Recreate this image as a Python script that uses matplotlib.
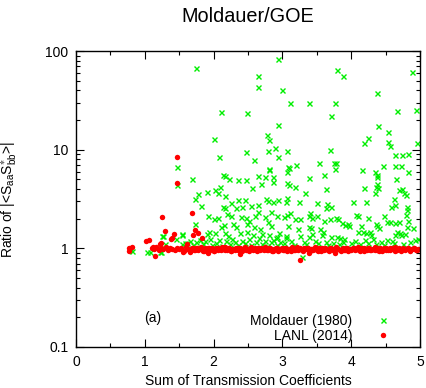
import matplotlib
matplotlib.use("Agg")
import matplotlib.pyplot as plt
from matplotlib.ticker import LogLocator, FixedLocator, NullFormatter, FixedFormatter

plt.rcParams['font.family'] = ['Liberation Sans', 'DejaVu Sans']
plt.rcParams['mathtext.fontset'] = 'custom'
plt.rcParams['mathtext.rm'] = 'Liberation Sans'

# Moldauer (1980) ratios vs. sum of transmission coefficients
moldauer_x = [
    1.75, 2.94, 2.65, 2.65, 3.00, 3.11, 3.38, 2.11, 2.49, 2.94, 2.00, 2.77, 2.81, 2.89,
    2.79, 2.47, 3.07, 2.08, 2.93, 2.59, 3.20, 3.08, 2.81,
    3.80, 3.88, 4.88, 4.37, 3.77, 3.71, 4.67, 4.94, 4.39, 4.54, 4.25, 4.18, 4.53, 4.57,
    4.96, 3.69, 4.63, 4.74, 4.83, 3.53, 3.75, 3.78, 4.46, 4.63, 4.73, 3.76, 4.15,
    1.47, 1.47, 1.68, 1.78, 1.73, 1.81, 1.91, 1.92, 1.73, 1.54, 1.25, 1.91, 1.54, 1.58,
    1.30, 1.46, 1.03, 1.08, 1.24, 1.26, 1.54, 0.82, 1.22, 0.78,
    2.81, 2.13, 2.16, 2.22, 2.35, 2.47, 2.65, 2.75, 2.87, 2.87, 2.69, 2.56, 2.02, 2.10,
    2.07, 2.17, 2.36, 2.45, 2.76, 2.79, 2.87, 2.94, 2.25, 2.13, 2.17, 2.33, 2.41, 2.54,
    2.64, 2.65, 2.60, 2.84, 2.00, 2.06, 2.19, 2.26, 2.40, 2.47, 2.52, 2.75, 2.79, 2.84,
    2.92, 2.11, 2.15, 2.28, 2.33, 2.48, 2.58, 2.67, 1.93, 2.02, 2.17, 2.21, 2.38, 2.49,
    2.57, 2.71, 2.81, 2.90,
    1.62, 1.66, 1.70, 1.75, 1.80, 1.84, 1.88, 1.95, 1.98, 2.04, 2.08, 2.12, 2.18, 2.24,
    2.27, 2.31, 2.36, 2.42, 2.45, 2.51, 2.55, 2.61, 2.66, 2.70, 2.74, 2.78, 2.83, 2.87,
    2.92, 2.97,
    3.09, 3.06, 3.60, 3.38, 3.06, 3.09, 3.19, 3.63, 3.33, 3.07, 3.05, 3.24, 3.51, 3.65,
    3.71, 3.64, 3.11, 3.07, 3.02, 3.40, 3.50, 3.39, 3.43, 3.19, 3.26, 3.78, 3.81, 3.69,
    3.61, 3.86, 3.91, 3.95, 3.08, 3.38, 3.41, 3.23, 3.26, 3.55, 3.59, 3.57, 2.95, 2.92,
    3.05, 3.05, 3.43, 3.38, 3.71, 3.79, 3.84, 3.90, 3.28,
    3.02, 3.13, 3.17, 3.31, 3.35, 3.47, 3.52, 3.63, 3.67, 3.74, 3.82, 3.88,
    4.35, 4.37, 4.38, 4.83, 4.65, 4.38, 4.36, 4.39, 4.34, 4.18, 4.69, 4.74, 4.79, 4.77,
    4.62, 4.64, 4.58, 4.02, 4.21, 4.81, 4.81, 4.80, 4.07, 4.10, 4.25, 4.47, 4.52, 4.56,
    4.64, 4.69, 3.97, 4.14, 4.38, 4.36, 4.41, 4.82, 4.81, 4.90, 4.10, 4.17, 4.22, 4.27,
    4.66, 4.71, 4.64, 4.73, 4.78, 4.29, 4.32, 4.20, 4.59, 4.52, 4.93,
    4.00, 4.05, 4.13, 4.24, 4.36, 4.44, 4.48, 4.62, 4.76, 4.86, 4.97,
]
moldauer_y = [
    67, 83, 56, 43, 40.5, 29.4, 30, 24.2, 23.5, 17.9, 12.9, 14.0, 12.4, 10.4,
    9.7, 9.5, 9.6, 8.4, 8.4, 7.9, 7.0, 6.6, 6.4,
    64, 55.7, 61, 37.2, 29.7, 21.9, 24.4, 25, 17.5, 15.1, 13.0, 11.7, 12.0, 11.0,
    11.6, 9.9, 8.9, 8.8, 9.0, 7.3, 7.3, 7.4, 6.9, 6.8, 6.8, 6.3, 6.2,
    6.6, 4.4, 5.07, 3.52, 3.16, 2.70, 3.75, 2.14, 1.78, 1.39, 1.32, 1.41, 1.10, 1.14,
    1.10, 1.24, 0.92, 0.91, 0.92, 1.33, 1.37, 0.95, 0.92, 1.0,
    6.2, 5.6, 5.4, 5.1, 4.9, 4.9, 5.4, 5.3, 5.3, 4.7, 4.45, 4.06, 3.87, 4.17,
    3.6, 3.39, 3.06, 3.06, 3.16, 3.01, 2.93, 3.09, 2.86, 2.64, 2.54, 2.54, 2.62, 2.70,
    2.76, 2.35, 2.14, 2.35, 1.98, 2.01, 2.21, 2.13, 2.09, 2.01, 1.89, 2.09, 1.85, 1.68,
    2.13, 1.65, 1.72, 1.78, 1.65, 1.75, 1.65, 1.58, 1.45, 1.42, 1.42, 1.34, 1.42, 1.47,
    1.36, 1.39, 1.36, 1.28,
    1.12, 1.20, 1.08, 1.15, 1.22, 1.10, 1.18, 1.25, 1.08, 1.14, 1.22, 1.06, 1.18, 1.10,
    1.25, 1.15, 1.07, 1.20, 1.12, 1.24, 1.08, 1.16, 1.27, 1.10, 1.20, 1.06, 1.15, 1.22,
    1.09, 1.17,
    6.45, 5.97, 5.6, 5.2, 4.6, 4.38, 4.2, 3.96, 3.6, 3.25, 2.92, 2.96, 2.86, 2.79,
    2.60, 2.54, 2.26, 2.17, 2.06, 2.26, 2.14, 2.14, 2.04, 1.98, 1.97, 2.04, 1.98, 1.98,
    1.89, 1.79, 1.72, 1.75, 1.69, 1.65, 1.59, 1.57, 1.34, 1.57, 1.45, 1.36, 1.42, 1.31,
    1.34, 1.26, 1.39, 1.31, 1.30, 1.30, 1.26, 1.24, 0.82,
    1.12, 1.18, 1.08, 1.15, 1.10, 1.20, 1.12, 1.16, 1.08, 1.14, 1.10, 1.16,
    5.89, 5.3, 5.6, 5.9, 5.0, 4.48, 4.2, 4.1, 3.6, 4.05, 3.9, 3.96, 3.46, 3.66,
    3.13, 2.75, 2.64, 2.96, 2.96, 2.64, 2.45, 2.17, 2.17, 2.13, 2.01, 2.13, 1.86, 1.83,
    1.82, 1.86, 1.68, 1.68, 1.68, 1.76, 1.59, 1.89, 1.65, 1.62, 1.45, 1.45, 1.42, 1.45,
    1.47, 1.42, 1.36, 1.36, 1.39, 1.36, 1.24, 1.21, 1.19, 1.21, 1.21,
    1.12, 1.18, 1.10, 1.14, 1.10, 1.16, 1.08, 1.12, 1.10, 1.15, 1.25,
]

# LANL (2014) ratios: scattered points away from unity
lanl_x = [
    1.47, 1.47, 1.25, 1.69, 1.30, 1.43, 1.40, 1.73, 1.77, 1.70, 1.83, 1.02, 1.06, 1.38,
    1.23, 0.81, 0.77, 0.77, 1.15, 1.55, 1.66, 1.92, 1.12, 1.22, 2.39, 2.93, 3.26, 3.38,
    3.76, 1.62,
]
lanl_y = [
    8.5, 4.6, 2.1, 2.28, 1.5, 1.39, 1.26, 1.53, 1.43, 1.36, 1.26, 1.18, 1.21, 1.25,
    1.12, 1.04, 1.0, 0.95, 0.84, 0.91, 0.92, 0.89, 1.04, 1.10, 0.87, 0.94, 0.76, 0.89,
    0.89, 1.10,
]

# LANL (2014) ratios close to unity
lanl_band_x = [
    1.10, 1.13, 1.17, 1.20, 1.24, 1.27, 1.31, 1.34, 1.36, 1.40,
    1.44, 1.47, 1.50, 1.53, 1.57, 1.60, 1.63, 1.66, 1.70, 1.73,
    1.76, 1.79, 1.82, 1.86, 1.89, 1.92, 1.95, 1.98, 2.01, 2.04,
    2.07, 2.11, 2.14, 2.17, 2.20, 2.23, 2.26, 2.30, 2.33, 2.36,
    2.39, 2.42, 2.45, 2.49, 2.52, 2.55, 2.58, 2.61, 2.64, 2.68,
    2.71, 2.74, 2.77, 2.80, 2.83, 2.87, 2.90, 2.93, 2.96, 2.99,
    3.02, 3.05, 3.09, 3.12, 3.15, 3.18, 3.21, 3.24, 3.28, 3.31,
    3.34, 3.37, 3.40, 3.43, 3.47, 3.50, 3.53, 3.56, 3.59, 3.62,
    3.66, 3.69, 3.72, 3.75, 3.78, 3.81, 3.85, 3.88, 3.91, 3.94,
    3.97, 4.00, 4.04, 4.07, 4.10, 4.13, 4.16, 4.19, 4.23, 4.26,
    4.29, 4.32, 4.35, 4.38, 4.42, 4.45, 4.48, 4.51, 4.54, 4.57,
    4.61, 4.64, 4.67, 4.70, 4.73, 4.76, 4.80, 4.83, 4.86, 4.89,
    4.92, 4.95, 4.99,
    1.62, 1.65, 1.68, 1.71, 1.75, 1.78, 1.81, 1.84, 1.87, 1.91,
    1.94, 1.97, 2.00, 2.03, 2.06, 2.09, 2.12, 2.16, 2.19, 2.22,
    2.25, 2.28, 2.31, 2.35, 2.38, 2.41, 2.44, 2.47, 2.50, 2.54,
    2.57, 2.60, 2.63, 2.66, 2.69, 2.73, 2.76, 2.79, 2.82, 2.85,
    2.88, 2.92, 2.95, 2.98, 3.01, 3.04, 3.07, 3.11, 3.14, 3.17,
    3.20, 3.23, 3.26, 3.30, 3.33, 3.36, 3.39, 3.42, 3.45, 3.49,
    3.52, 3.55, 3.58, 3.61, 3.64, 3.68, 3.71, 3.74, 3.77, 3.80,
    3.83, 3.87, 3.90, 3.93, 3.96, 3.99, 4.02, 4.06, 4.09, 4.12,
    4.15, 4.18, 4.21, 4.25, 4.28, 4.31, 4.34, 4.37, 4.40, 4.44,
    4.47, 4.50, 4.53, 4.56, 4.59, 4.63, 4.66, 4.69, 4.72, 4.75,
    4.78, 4.82, 4.85, 4.88, 4.91, 4.94, 4.97,
]
lanl_band_y = [
    1.00, 0.99, 1.02, 0.97, 1.01, 0.98, 1.03, 0.96, 1.00, 0.99,
    0.97, 1.01, 0.98, 1.00, 0.95, 1.02, 0.99, 0.97, 1.01, 0.96,
    1.00, 0.98, 1.02, 0.95, 0.99, 1.01, 0.97, 1.00, 0.94, 0.99,
    1.01, 0.96, 0.99, 1.02, 0.97, 1.00, 0.95, 0.98, 1.01, 0.96,
    1.00, 0.97, 1.02, 0.98, 0.95, 1.00, 0.99, 0.96, 1.01, 0.97,
    0.99, 1.02, 0.96, 1.00, 0.98, 0.94, 1.01, 0.97, 0.99, 1.00,
    0.96, 1.01, 0.98, 0.95, 1.00, 0.97, 1.02, 0.99, 0.96, 1.00,
    0.98, 1.01, 0.95, 0.99, 1.02, 0.97, 1.00, 0.94, 0.98, 1.01,
    0.97, 1.00, 0.99, 0.96, 1.02, 0.98, 0.95, 1.00, 0.97, 1.01,
    0.99, 0.96, 1.00, 0.98, 1.02, 0.95, 0.99, 1.01, 0.97, 1.00,
    0.96, 0.99, 1.02, 0.97, 1.00, 0.94, 0.98, 1.01, 0.96, 1.00,
    0.98, 1.02, 0.97, 0.99, 0.95, 1.01, 0.98, 1.00, 0.96, 0.99,
    1.01, 0.97, 0.99,
    0.98, 0.95, 1.00, 0.97, 1.01, 0.96, 0.99, 0.93, 1.00, 0.97,
    1.01, 0.98, 0.95, 1.00, 0.97, 0.99, 1.02, 0.96, 0.98, 1.00,
    0.95, 0.99, 0.97, 1.01, 0.98, 0.94, 1.00, 0.96, 0.99, 1.02,
    0.97, 1.00, 0.95, 0.98, 1.01, 0.96, 0.99, 0.97, 1.00, 0.94,
    0.98, 1.01, 0.96, 0.99, 0.97, 1.00, 0.95, 0.98, 1.02, 0.96,
    0.99, 0.97, 1.00, 0.94, 0.98, 1.01, 0.96, 0.99, 0.97, 1.00,
    0.95, 0.98, 1.01, 0.96, 0.99, 0.93, 1.00, 0.97, 0.98, 1.01,
    0.96, 0.99, 0.97, 1.00, 0.95, 0.98, 1.01, 0.96, 0.99, 0.97,
    1.00, 0.94, 0.98, 1.01, 0.96, 0.99, 0.97, 1.00, 0.95, 0.98,
    1.01, 0.96, 0.99, 0.97, 1.00, 0.94, 0.98, 1.01, 0.96, 0.99,
    0.97, 1.00, 0.95, 0.98, 1.01, 0.96, 0.99,
]

x_ticks = [0, 1, 2, 3, 4, 5]
y_ticks = [0.1, 1, 10, 100]
y_tick_labels = ["0.1", "1", "10", "100"]

GREEN = "#00ee00"
RED = "#ff0000"

fig = plt.figure(figsize=(4.26, 3.88), dpi=100)
ax = fig.add_axes([76 / 426, 1 - 347 / 388, 344 / 426, 296 / 388])

ax.plot(moldauer_x, moldauer_y, linestyle="none", marker="x", color=GREEN,
        markersize=3.6, markeredgewidth=1.0, label="Moldauer (1980)")
ax.plot(lanl_band_x + lanl_x, lanl_band_y + lanl_y, linestyle="none", marker="o",
        color=RED, markersize=3.9, markeredgewidth=0, label="LANL (2014)")

ax.set_yscale("log")
ax.set_xlim(0, 5)
ax.set_ylim(0.1, 100)

ax.xaxis.set_major_locator(FixedLocator(x_ticks))
ax.xaxis.set_minor_locator(FixedLocator([0.5, 1.5, 2.5, 3.5, 4.5]))
ax.yaxis.set_major_locator(FixedLocator(y_ticks))
ax.yaxis.set_major_formatter(FixedFormatter(y_tick_labels))
ax.yaxis.set_minor_locator(LogLocator(base=10, subs=range(2, 10)))
ax.yaxis.set_minor_formatter(NullFormatter())

ax.tick_params(which="both", direction="in", top=True, right=True, labelsize=10,
               width=0.8, colors="black")
ax.tick_params(which="major", length=6, pad=5.5)
ax.tick_params(which="minor", length=3)
for s in ax.spines.values():
    s.set_linewidth(1.0)

ax.set_xlabel("Sum of Transmission Coefficients", fontsize=10)
ax.xaxis.set_label_coords(0.5, -0.09)
ax.set_ylabel(r"Ratio of |<$\mathregular{S_{aa}S_{bb}^{\ast}}$>|", fontsize=10)
ax.yaxis.set_label_coords(-0.17, 0.5)

ax.text(1.12, 0.197, "(a)", fontsize=10, ha="center", va="center")

fig.text(248 / 426, 1 - 17 / 388, "Moldauer/GOE", fontsize=14.3, ha="center", va="center")

ax.legend(loc="lower right", bbox_to_anchor=(0.933, 0.015), frameon=False,
          markerfirst=False, numpoints=1, fontsize=10, handlelength=2.0,
          handletextpad=1.2, borderpad=0, borderaxespad=0, labelspacing=0.05)

fig.savefig("out.png", dpi=100)
